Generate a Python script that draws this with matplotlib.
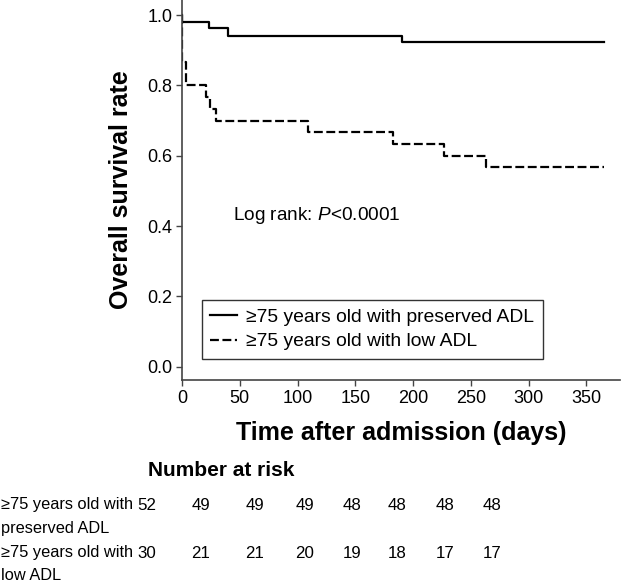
import numpy as np
import matplotlib
matplotlib.use("Agg")
import matplotlib.pyplot as plt

plt.rcParams['font.family'] = ['Liberation Sans', 'DejaVu Sans']
plt.rcParams['mathtext.fontset'] = 'custom'
plt.rcParams['mathtext.rm'] = 'Liberation Sans'
plt.rcParams['mathtext.it'] = 'Liberation Sans:italic'

# Kaplan-Meier steps
preserved_days = [0, 0, 23, 40, 190, 365]
preserved_surv = [1.0, 0.981, 0.962, 0.942, 0.923, 0.923]

low_days = [0, 0, 3.5, 21, 24, 29, 109, 183, 227, 263, 365]
low_surv = [1.0, 0.867, 0.8, 0.767, 0.733, 0.7, 0.667, 0.633, 0.6, 0.567, 0.567]

series_labels = ["\u226575 years old with preserved ADL",
                 "\u226575 years old with low ADL"]

# Number at risk table
risk_times = [0, 50, 100, 150, 200, 250, 300, 350]
risk_preserved = [52, 49, 49, 49, 48, 48, 48, 48]
risk_low = [30, 21, 21, 20, 19, 18, 17, 17]
risk_row_labels = ["\u226575 years old with\npreserved ADL",
                   "\u226575 years old with\nlow ADL"]

W, H = 622, 585
fig = plt.figure(figsize=(W / 100, H / 100), dpi=100)
ax = fig.add_axes([182 / W, 1 - 380 / H, (620 - 182) / W, 380 / H])

ax.step(preserved_days, preserved_surv, where="post", color="black",
        lw=1.6, label=series_labels[0])
ax.step(low_days, low_surv, where="post", color="black", lw=1.6,
        dashes=(4, 1.6), label=series_labels[1])

ax.set_xlim(0, 379)
ax.set_ylim(-0.038, 1.043)
ax.set_xticks(risk_times)
ax.set_yticks(np.arange(0, 1.01, 0.2))
ax.set_yticklabels([f"{v:.1f}" for v in np.arange(0, 1.01, 0.2)])
for s in ["top", "right"]:
    ax.spines[s].set_visible(False)
for s in ["left", "bottom"]:
    ax.spines[s].set_color("#444444")
    ax.spines[s].set_linewidth(1.2)
ax.tick_params(axis="both", labelsize=13, length=4, width=1.0,
               color="#444444", pad=3)

ax.set_xlabel("Time after admission (days)", fontsize=18, fontweight="bold",
              labelpad=10)
ax.set_ylabel("Overall survival rate", fontsize=18, fontweight="bold",
              labelpad=10)

ax.text(44, 0.431, "Log rank: $\\it{P}$<0.0001", fontsize=13.7,
        ha="left", va="center")

leg = ax.legend(loc="lower left", bbox_to_anchor=(0.045, 0.055),
                borderaxespad=0, fontsize=13.9, frameon=True, fancybox=False,
                handlelength=1.4, handletextpad=0.45, borderpad=0.45,
                labelspacing=0.35)
leg.get_frame().set_edgecolor("black")
leg.get_frame().set_linewidth(1.0)

# risk table below the plot (column centres in pixels)
col_px = [147, 201, 255, 305, 352, 397, 445, 492]
fig.text(148 / W, 1 - 470 / H, "Number at risk", fontsize=15,
         fontweight="bold", ha="left", va="center")
row_y = [505, 553]
for label, counts, y in zip(risk_row_labels, [risk_preserved, risk_low], row_y):
    for i, line in enumerate(label.split("\n")):
        fig.text(1 / W, 1 - (y + 23 * i) / H, line, fontsize=11.8,
                 ha="left", va="center")
    for x, n in zip(col_px, counts):
        fig.text(x / W, 1 - y / H, str(n), fontsize=12.2,
                 ha="center", va="center")

fig.savefig("out.png", dpi=100)
